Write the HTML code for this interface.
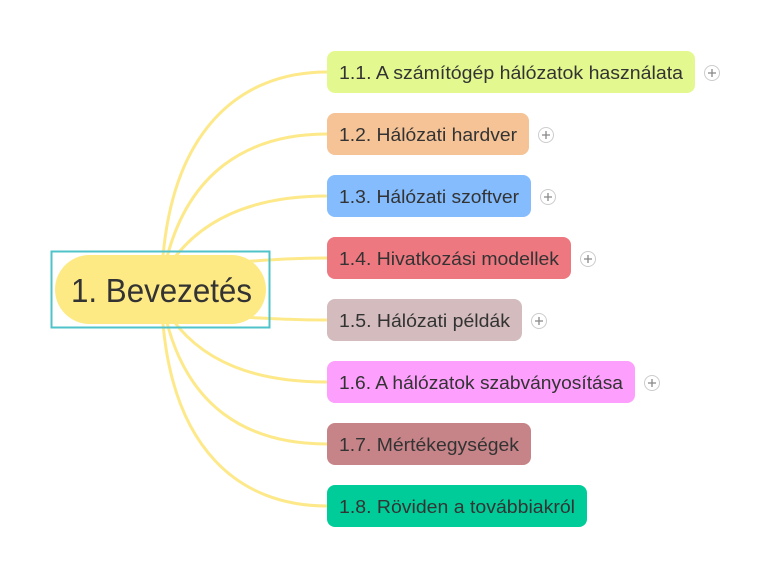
<!DOCTYPE html>
<html><head><meta charset="utf-8"><style>
html,body{margin:0;padding:0;background:#fff;width:758px;height:578px;overflow:hidden}
text{font-family:"Liberation Sans",sans-serif;fill:#333}
</style></head><body>
<svg width="758" height="578" viewBox="0 0 758 578" xmlns="http://www.w3.org/2000/svg">
<g fill="none" stroke="#fde98a" stroke-width="3" stroke-linecap="round">
<path d="M162 270 C170 130 240 72 327 72"/>
<path d="M164 270 C185 170 250 134 327 134"/>
<path d="M166 270 C200 215 260 196 327 196"/>
<path d="M240 262 C280 259 300 258 327 258"/>
<path d="M240 317 C280 319 300 320 327 320"/>
<path d="M166 310 C200 365 260 382 327 382"/>
<path d="M164 310 C185 410 250 444 327 444"/>
<path d="M162 310 C170 450 240 506 327 506"/>
</g>
<rect x="51.5" y="251.5" width="218" height="76" fill="none" stroke="#4fc3c9" stroke-width="2"/>
<rect x="55" y="255" width="211" height="69" rx="34.5" fill="#feea85"/>
<text x="71" y="302" font-size="33" textLength="181" lengthAdjust="spacingAndGlyphs" fill="#2a2a2a">1. Bevezetés</text>
<g font-size="18">
<rect x="327" y="51" width="368" height="42" rx="8" fill="#e3f98f"/><text x="339" y="79" textLength="344" lengthAdjust="spacingAndGlyphs">1.1. A számítógép hálózatok használata</text>
<rect x="327" y="113" width="202" height="42" rx="8" fill="#f5c396"/><text x="339" y="141" textLength="178" lengthAdjust="spacingAndGlyphs">1.2. Hálózati hardver</text>
<rect x="327" y="175" width="204" height="42" rx="8" fill="#84bcfd"/><text x="339" y="203" textLength="180" lengthAdjust="spacingAndGlyphs">1.3. Hálózati szoftver</text>
<rect x="327" y="237" width="244" height="42" rx="8" fill="#ee7880"/><text x="339" y="265" textLength="220" lengthAdjust="spacingAndGlyphs">1.4. Hivatkozási modellek</text>
<rect x="327" y="299" width="195" height="42" rx="8" fill="#d3bbbe"/><text x="339" y="327" textLength="171" lengthAdjust="spacingAndGlyphs">1.5. Hálózati példák</text>
<rect x="327" y="361" width="308" height="42" rx="8" fill="#fd9ffc"/><text x="339" y="389" textLength="284" lengthAdjust="spacingAndGlyphs">1.6. A hálózatok szabványosítása</text>
<rect x="327" y="423" width="204" height="42" rx="8" fill="#c78488"/><text x="339" y="451" textLength="180" lengthAdjust="spacingAndGlyphs">1.7. Mértékegységek</text>
<rect x="327" y="485" width="260" height="42" rx="8" fill="#00cc99"/><text x="339" y="513" textLength="236" lengthAdjust="spacingAndGlyphs">1.8. Röviden a továbbiakról</text>
</g>
<g stroke="#ccc" stroke-width="1" fill="#fff">
<circle cx="712" cy="73" r="7.5"/><circle cx="546" cy="135" r="7.5"/><circle cx="548" cy="197" r="7.5"/>
<circle cx="588" cy="259" r="7.5"/><circle cx="539" cy="321" r="7.5"/><circle cx="652" cy="383" r="7.5"/>
</g>
<g stroke="#888" stroke-width="1.3">
<path d="M708 73h8M712 69v8"/><path d="M542 135h8M546 131v8"/><path d="M544 197h8M548 193v8"/>
<path d="M584 259h8M588 255v8"/><path d="M535 321h8M539 317v8"/><path d="M648 383h8M652 379v8"/>
</g>
</svg>
</body></html>
